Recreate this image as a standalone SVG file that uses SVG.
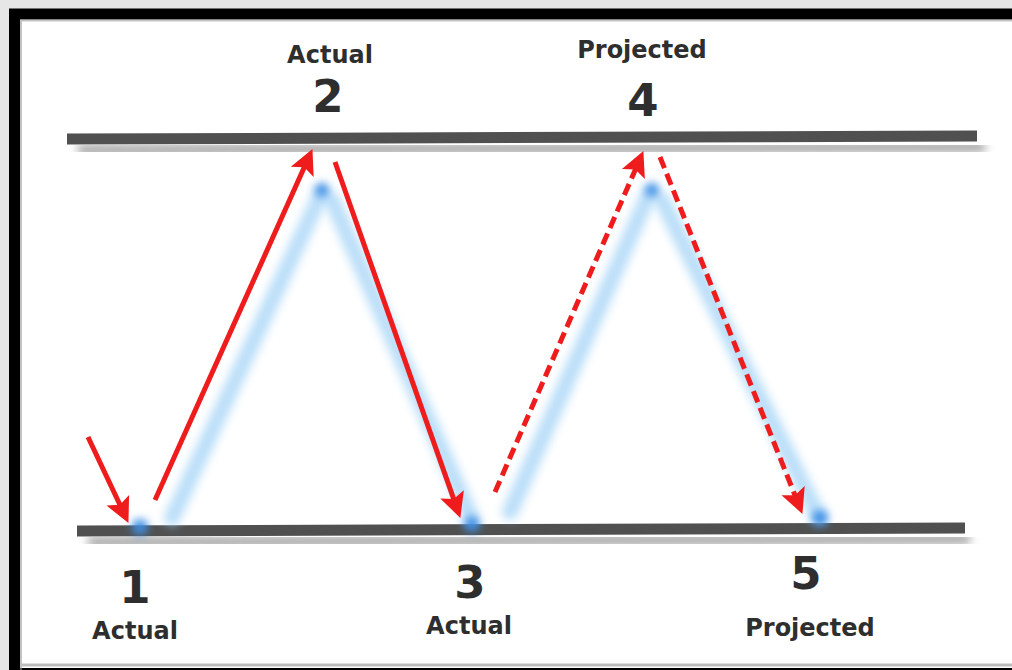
<svg xmlns="http://www.w3.org/2000/svg" width="1012" height="670" viewBox="0 0 1012 670">
<defs>
<style>
.lbl{font-family:"DejaVu Sans","Liberation Sans",sans-serif;font-weight:bold;fill:#2e2e2e;text-anchor:middle}
.word{font-size:24px}
.num{font-size:45px}
.bar{stroke:#505050;stroke-width:11;stroke-linecap:butt}
.bar-sh{stroke:#a0a0a0;stroke-width:10;filter:url(#blur5)}
.glow{stroke:#9dd0f6;stroke-width:16;stroke-linecap:round;fill:none;filter:url(#blur5);opacity:0.7}
.dot{fill:#3d8fe6;filter:url(#blur3)}
.arr{stroke:#ee1c1c;stroke-width:5;fill:none;marker-end:url(#head)}
.dash{stroke-dasharray:12 6}
</style>
<filter id="blur5" x="-20%" y="-60%" width="140%" height="220%"><feGaussianBlur stdDeviation="5"/></filter>
<filter id="blur3" x="-100%" y="-100%" width="300%" height="300%"><feGaussianBlur stdDeviation="4"/></filter>
<marker id="head" markerUnits="userSpaceOnUse" markerWidth="30" markerHeight="30" refX="8" refY="0" viewBox="0 -15 30 30" orient="auto" overflow="visible">
<path d="M0,-12.5 L25,0 L0,12.5 L5,0 Z" fill="#ee1c1c"/>
</marker>
</defs>
<rect width="1012" height="670" fill="#e6e6e6"/>
<rect x="14.5" y="14" width="1010" height="659.5" fill="#ffffff" stroke="#000000" stroke-width="11"/>
<path d="M21,670 V20.5 H1012" fill="none" stroke="#9a9a9a" stroke-width="2" opacity="0.6"/>
<line x1="21" y1="665" x2="1012" y2="665" stroke="#bdbdbd" stroke-width="3"/>

<g id="levels">
<line class="bar-sh" x1="78" y1="150" x2="985" y2="147"/>
<line class="bar" x1="67" y1="139" x2="977" y2="136"/>
<line class="bar-sh" x1="88" y1="542" x2="970" y2="539"/>
<line class="bar" x1="77" y1="531" x2="965" y2="528"/>
</g>

<g id="glow-path">
<line class="glow" x1="172" y1="518" x2="320" y2="196"/>
<line class="glow" x1="332" y1="200" x2="470" y2="515"/>
<line class="glow" x1="510" y1="512" x2="648" y2="196"/>
<line class="glow" x1="662" y1="200" x2="818" y2="515"/>
<circle class="dot" cx="140" cy="527" r="8"/>
<circle class="dot" cx="322" cy="190" r="7"/>
<circle class="dot" cx="472" cy="524" r="8"/>
<circle class="dot" cx="652" cy="190" r="7"/>
<circle class="dot" cx="820" cy="518" r="8"/>
</g>

<g id="connectors">
<line class="arr" x1="88" y1="437" x2="121.2" y2="507.5"/>
<line class="arr" x1="155" y1="500" x2="305.5" y2="164.6"/>
<line class="arr" x1="335" y1="162" x2="454.7" y2="501.9"/>
<line class="arr dash" x1="495" y1="492" x2="636.6" y2="166.7"/>
<line class="arr dash" x1="660" y1="157" x2="796.1" y2="498.1"/>
</g>

<g id="node-1">
<text class="lbl num" x="135" y="603">1</text>
<text class="lbl word" x="135" y="639">Actual</text>
</g>
<g id="node-2">
<text class="lbl word" x="330" y="63">Actual</text>
<text class="lbl num" x="328" y="112">2</text>
</g>
<g id="node-3">
<text class="lbl num" x="470" y="598">3</text>
<text class="lbl word" x="469" y="634">Actual</text>
</g>
<g id="node-4">
<text class="lbl word" x="642" y="58">Projected</text>
<text class="lbl num" x="643" y="116">4</text>
</g>
<g id="node-5">
<text class="lbl num" x="806" y="589">5</text>
<text class="lbl word" x="810" y="636">Projected</text>
</g>
</svg>
